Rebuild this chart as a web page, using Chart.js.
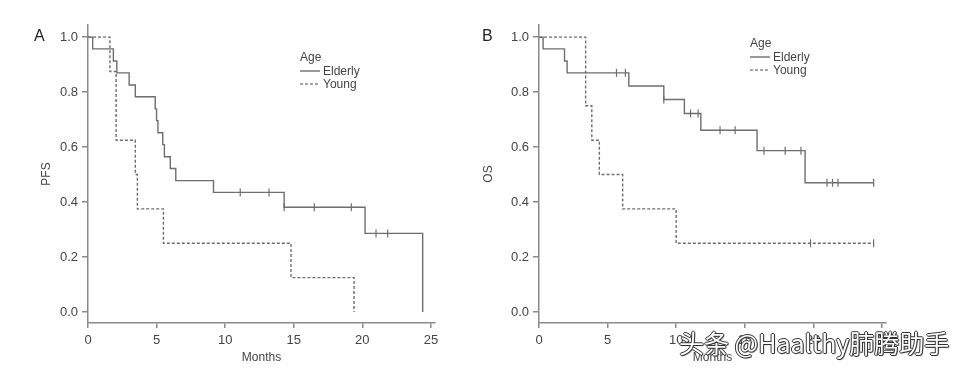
<!DOCTYPE html>
<html>
<head>
<meta charset="utf-8">
<script src="https://cdn.jsdelivr.net/npm/chart.js@4.4.0/dist/chart.umd.min.js"></script>
<style>
  html, body { margin: 0; padding: 0; background: #fff; }
  #wrap { position: relative; width: 958px; height: 368px; overflow: hidden; font-family: Arial, "Liberation Sans", sans-serif; }
  canvas { position: absolute; top: 0; }
  .lbl { position: absolute; font-size: 16px; color: #222; line-height: 16px; }
  .leg { position: absolute; font-size: 12px; color: #444; line-height: 14px; }
  .leg .row { display: flex; align-items: center; height: 13px; }
  .leg svg { margin-right: 3px; }
  #wm { position: absolute; left: 679px; top: 328px; font-family: "Noto Sans CJK SC", sans-serif; font-size: 25px; line-height: 28px;
        color: #fff; white-space: nowrap;
        text-shadow: 1px 0 0 #333, -1px 0 0 #333, 0 1px 0 #333, 0 -1px 0 #333, 1px 1px 1px #555; }
</style>
</head>
<body>
<div id="wrap">
  <canvas id="pfsChart" width="470" height="368" style="left:0"></canvas>
  <canvas id="osChart" width="470" height="368" style="left:451px"></canvas>

  <div class="lbl" style="left:34px;top:28px">A</div>
  <div class="lbl" style="left:482px;top:28px">B</div>

  <div class="leg" style="left:300px;top:50px">
    <div>Age</div>
    <div class="row"><svg width="20" height="4"><line x1="0" y1="2" x2="20" y2="2" stroke="#777" stroke-width="1.5"/></svg>Elderly</div>
    <div class="row"><svg width="20" height="4"><line x1="0" y1="2" x2="20" y2="2" stroke="#888" stroke-width="1.5" stroke-dasharray="3,2"/></svg>Young</div>
  </div>
  <div class="leg" style="left:750px;top:36px">
    <div>Age</div>
    <div class="row"><svg width="20" height="4"><line x1="0" y1="2" x2="20" y2="2" stroke="#777" stroke-width="1.5"/></svg>Elderly</div>
    <div class="row"><svg width="20" height="4"><line x1="0" y1="2" x2="20" y2="2" stroke="#888" stroke-width="1.5" stroke-dasharray="3,2"/></svg>Young</div>
  </div>

  <div id="wm">头条 @Haalthy肺腾助手</div>
</div>

<script>
// ---- Kaplan-Meier data (months / survival) ----
const X_TICKS = [0, 5, 10, 15, 20, 25];
const Y_TICKS = [0, 0.2, 0.4, 0.6, 0.8, 1.0];

// Panel A: PFS
const pfsElderlyTimes = [0, 0.34, 1.85, 2.1, 3.0, 3.45, 4.9, 5.0, 5.1, 5.45, 5.57, 6.0, 6.4, 9.15, 14.3, 20.2, 24.4];
const pfsElderlySurv  = [1, 0.957, 0.913, 0.870, 0.826, 0.783, 0.739, 0.696, 0.652, 0.609, 0.565, 0.522, 0.478, 0.435, 0.381, 0.286, 0];
const pfsElderlyCens  = [11.1, 13.2, 14.3, 16.5, 19.2, 21.0, 21.85];
const pfsYoungTimes   = [0, 1.6, 2.05, 3.45, 3.6, 5.5, 14.8, 19.4];
const pfsYoungSurv    = [1, 0.875, 0.625, 0.5, 0.375, 0.25, 0.125, 0];
const pfsYoungCens    = [];

// Panel B: OS
const osElderlyTimes = [0, 0.3, 1.86, 2.05, 6.55, 9.1, 10.6, 11.8, 15.9, 19.4, 24.4];
const osElderlySurv  = [1, 0.957, 0.913, 0.870, 0.822, 0.773, 0.722, 0.661, 0.587, 0.470, 0.470];
const osElderlyCens  = [5.65, 6.3, 9.1, 11.05, 11.6, 13.2, 14.3, 16.4, 17.95, 19.1, 21.0, 21.4, 21.8, 24.4];
const osYoungTimes   = [0, 3.4, 3.85, 4.4, 6.1, 10.0, 24.4];
const osYoungSurv    = [1, 0.75, 0.625, 0.5, 0.375, 0.25, 0.25];
const osYoungCens    = [19.8, 24.4];

const LINE = '#6e6e6e';
const AXIS = '#8a8a8a';
const TXT  = '#444';
const FONT = "Arial, 'Liberation Sans', sans-serif";

function toPoints(times, surv) {
  return times.map((t, i) => ({ x: t, y: surv[i] }));
}

// censor tick sits on the curve level at that time
function censorPoints(cens, times, surv) {
  return cens.map(t => {
    let v = surv[0];
    times.forEach((tt, i) => { if (t >= tt) v = surv[i]; });
    return { x: t, y: v };
  });
}

function curve(points, dashed) {
  return {
    data: points, showLine: true, stepped: true,
    borderColor: LINE, borderWidth: 1.4, borderDash: dashed ? [3, 2] : [],
    pointRadius: 0
  };
}

function ticks(points) {
  return {
    data: points, showLine: false,
    pointStyle: 'line', rotation: 90, pointRadius: 4,
    borderColor: LINE, borderWidth: 1.2
  };
}

function kmChart(id, yTitle, titlePad, e, y) {
  new Chart(document.getElementById(id), {
    type: 'scatter',
    data: {
      datasets: [
        curve(toPoints(e.t, e.s), false),
        curve(toPoints(y.t, y.s), true),
        ticks(censorPoints(e.c, e.t, e.s)),
        ticks(censorPoints(y.c, y.t, y.s)),
      ]
    },
    options: {
      responsive: false,
      animation: false,
      layout: { padding: { left: 0, top: 25, right: 35, bottom: 0 } },
      plugins: { legend: { display: false }, tooltip: { enabled: false } },
      scales: {
        x: {
          type: 'linear', min: 0, max: 25.3,
          afterFit: s => { s.height = 45; },
          afterBuildTicks: s => { s.ticks = X_TICKS.map(v => ({ value: v })); },
          grid: { drawOnChartArea: false, drawTicks: true, tickLength: 5, color: AXIS, lineWidth: 1.5 },
          border: { color: AXIS, width: 1.5 },
          ticks: { color: TXT, font: { size: 13, family: FONT }, padding: 5, maxRotation: 0 },
          title: { display: true, text: 'Months', color: TXT, font: { size: 12, family: FONT }, padding: { top: 0, bottom: 3 } }
        },
        y: {
          type: 'linear', min: -0.04, max: 1.044,
          afterFit: s => { s.width = 88; },
          afterBuildTicks: s => { s.ticks = Y_TICKS.map(v => ({ value: v })); },
          grid: { drawOnChartArea: false, drawTicks: true, tickLength: 6, color: AXIS, lineWidth: 1.5 },
          border: { color: AXIS, width: 1.5 },
          ticks: { color: TXT, font: { size: 13, family: FONT }, padding: 4, callback: v => v.toFixed(1) },
          title: { display: true, text: yTitle, color: TXT, font: { size: 12, family: FONT }, padding: { top: titlePad, bottom: 0 } }
        }
      }
    }
  });
}

kmChart('pfsChart', 'PFS', 39,
  { t: pfsElderlyTimes, s: pfsElderlySurv, c: pfsElderlyCens },
  { t: pfsYoungTimes, s: pfsYoungSurv, c: pfsYoungCens });

kmChart('osChart', 'OS', 30,
  { t: osElderlyTimes, s: osElderlySurv, c: osElderlyCens },
  { t: osYoungTimes, s: osYoungSurv, c: osYoungCens });
</script>
</body>
</html>
